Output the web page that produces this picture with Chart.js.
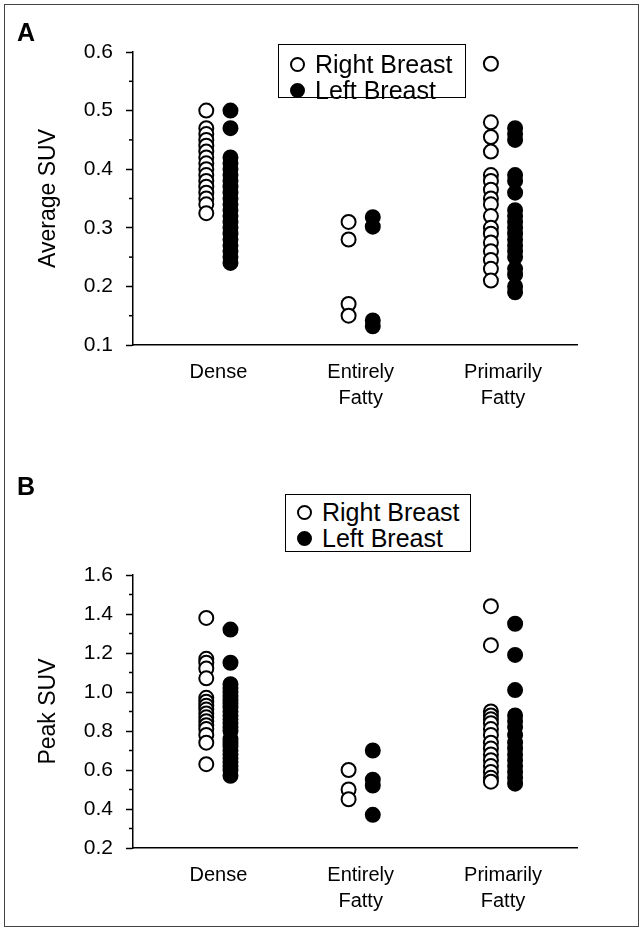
<!DOCTYPE html>
<html>
<head>
<meta charset="utf-8">
<script src="https://cdn.jsdelivr.net/npm/chart.js@4.4.1/dist/chart.umd.min.js"></script>
<style>
  html,body{margin:0;padding:0;background:#fff;}
  body{width:643px;height:932px;position:relative;overflow:hidden;font-family:"Liberation Sans",Arial,sans-serif;}
  #frame{position:absolute;left:4px;top:4px;width:635px;height:923px;border:1px solid #444;box-sizing:border-box;}
  .cv{position:absolute;left:0;}
  .letter{position:absolute;left:17px;font-weight:bold;font-size:25px;line-height:25px;color:#000;}
  .legend{position:absolute;border:1.5px solid #000;box-sizing:border-box;background:#fff;}
  .row{position:absolute;left:0;height:26px;line-height:26px;font-size:25px;color:#000;white-space:nowrap;}
  .mk{position:absolute;left:11px;top:6px;width:15px;height:15px;border-radius:50%;box-sizing:border-box;border:2px solid #000;}
  .mk.f{background:#000;}
  .mk.o{background:#fff;}
  .lt{position:absolute;left:36px;top:0;}
</style>
</head>
<body>
<div id="frame"></div>
<canvas id="cA" class="cv" style="top:0px" width="643" height="440"></canvas>
<canvas id="cB" class="cv" style="top:440px" width="643" height="492"></canvas>
<div class="letter" style="top:20px">A</div>
<div class="letter" style="top:474px">B</div>
<div class="legend" style="left:278px;top:44px;width:188px;height:54px;">
  <div class="row" style="top:6px"><span class="mk o"></span><span class="lt">Right Breast</span></div>
  <div class="row" style="top:32px"><span class="mk f"></span><span class="lt">Left Breast</span></div>
</div>
<div class="legend" style="left:285px;top:494px;width:186px;height:58px;">
  <div class="row" style="top:4px"><span class="mk o"></span><span class="lt">Right Breast</span></div>
  <div class="row" style="top:30px"><span class="mk f"></span><span class="lt">Left Breast</span></div>
</div>
<script>
// ---- categories ----
const categories = ["Dense", ["Entirely", "Fatty"], ["Primarily", "Fatty"]];
const seriesNames = ["Right Breast", "Left Breast"];

// ---- Panel A: Average SUV ----
const avgDenseRight = [0.50, 0.47, 0.46, 0.45, 0.44, 0.43, 0.42, 0.41, 0.40, 0.39, 0.38, 0.37, 0.36, 0.35, 0.34, 0.325];
const avgDenseLeft  = [0.50, 0.47, 0.42, 0.41, 0.40, 0.39, 0.38, 0.37, 0.36, 0.35, 0.34, 0.33, 0.32, 0.31, 0.30, 0.29, 0.28, 0.27, 0.26, 0.25, 0.24];
const avgEntireRight = [0.31, 0.28, 0.17, 0.15];
const avgEntireLeft  = [0.318, 0.302, 0.142, 0.132];
const avgPrimRight = [0.58, 0.48, 0.455, 0.43, 0.39, 0.38, 0.365, 0.35, 0.34, 0.32, 0.30, 0.29, 0.275, 0.26, 0.245, 0.23, 0.21];
const avgPrimLeft  = [0.47, 0.46, 0.45, 0.39, 0.38, 0.36, 0.33, 0.32, 0.31, 0.30, 0.29, 0.28, 0.27, 0.26, 0.25, 0.23, 0.22, 0.20, 0.19];
const avgTicks = [0.1, 0.6, 0.1]; // min, max, step

// ---- Panel B: Peak SUV ----
const peakDenseRight = [1.38, 1.17, 1.15, 1.12, 1.07, 0.97, 0.95, 0.93, 0.91, 0.89, 0.87, 0.85, 0.83, 0.81, 0.78, 0.74, 0.63];
const peakDenseLeft  = [1.32, 1.15, 1.04, 1.02, 1.00, 0.98, 0.96, 0.94, 0.92, 0.90, 0.88, 0.86, 0.84, 0.82, 0.80, 0.76, 0.74, 0.72, 0.70, 0.68, 0.66, 0.64, 0.62, 0.60, 0.57];
const peakEntireRight = [0.60, 0.50, 0.45];
const peakEntireLeft  = [0.70, 0.55, 0.52, 0.37];
const peakPrimRight = [1.44, 1.24, 0.90, 0.88, 0.86, 0.84, 0.81, 0.78, 0.74, 0.71, 0.68, 0.65, 0.62, 0.59, 0.56, 0.54];
const peakPrimLeft  = [1.35, 1.19, 1.01, 0.88, 0.85, 0.82, 0.78, 0.74, 0.71, 0.68, 0.65, 0.62, 0.59, 0.56, 0.53];
const peakTicks = [0.2, 1.6, 0.2];

const FONT = "'Liberation Sans', Arial, sans-serif";
const OFF = 0.085;

function pts(groups, side) {
  const out = [];
  groups.forEach((vals, i) => vals.forEach(v => out.push({x: i + 1 + side * OFF, y: v})));
  return out;
}

const minorTicks = {
  id: 'minorTicks',
  afterDraw(chart) {
    const y = chart.scales.y, ctx = chart.ctx;
    const t = y.ticks.map(k => k.value);
    ctx.save();
    ctx.strokeStyle = '#000'; ctx.lineWidth = 1.5;
    for (let i = 0; i < t.length - 1; i++) {
      const py = y.getPixelForValue((t[i] + t[i + 1]) / 2);
      ctx.beginPath(); ctx.moveTo(y.right, py); ctx.lineTo(y.right - 4, py); ctx.stroke();
    }
    ctx.restore();
  }
};

function makeChart(id, right, left, ticks, title, pad) {
  return new Chart(document.getElementById(id), {
    type: 'scatter',
    data: {
      datasets: [
        {label: seriesNames[0], data: pts(right, -1), pointStyle: 'circle', radius: 7, hoverRadius: 7,
         backgroundColor: '#fff', borderColor: '#000', borderWidth: 2, clip: false},
        {label: seriesNames[1], data: pts(left, 1), pointStyle: 'circle', radius: 7, hoverRadius: 7,
         backgroundColor: '#000', borderColor: '#000', borderWidth: 2, clip: false}
      ]
    },
    options: {
      responsive: false, animation: false, devicePixelRatio: 1,
      layout: {padding: pad},
      plugins: {legend: {display: false}, tooltip: {enabled: false}},
      scales: {
        x: {
          type: 'linear', min: 0.4, max: 3.52,
          afterBuildTicks: s => { s.ticks = categories.map((c, i) => ({value: i + 1})); },
          afterFit: s => { s.height = 70; },
          grid: {display: false, drawTicks: false},
          border: {display: true, color: '#000', width: 1.5},
          ticks: {
            autoSkip: false, maxRotation: 0, padding: 14, color: '#000',
            font: {family: FONT, size: 20, lineHeight: 1.3},
            callback: (v, i) => categories[i]
          }
        },
        y: {
          type: 'linear', min: ticks[0], max: ticks[1],
          afterFit: s => { s.width = 102; },
          grid: {drawOnChartArea: false, drawTicks: true, tickLength: 7, tickColor: '#000', tickWidth: 1.5},
          border: {display: true, color: '#000', width: 1.5},
          ticks: {stepSize: ticks[2], autoSkip: false, padding: 13, color: '#000',
                  font: {family: FONT, size: 21},
                  callback: v => Number(v).toFixed(1)},
          title: {display: true, text: title, color: '#000', font: {family: FONT, size: 23}, padding: {top: 4, bottom: 0}}
        }
      }
    },
    plugins: [minorTicks]
  });
}

makeChart('cA', [avgDenseRight, avgEntireRight, avgPrimRight], [avgDenseLeft, avgEntireLeft, avgPrimLeft],
          avgTicks, 'Average SUV', {left: 31, top: 52, right: 66, bottom: 25});
makeChart('cB', [peakDenseRight, peakEntireRight, peakPrimRight], [peakDenseLeft, peakEntireLeft, peakPrimLeft],
          peakTicks, 'Peak SUV', {left: 31, top: 135, right: 66, bottom: 14});
</script>
</body>
</html>
